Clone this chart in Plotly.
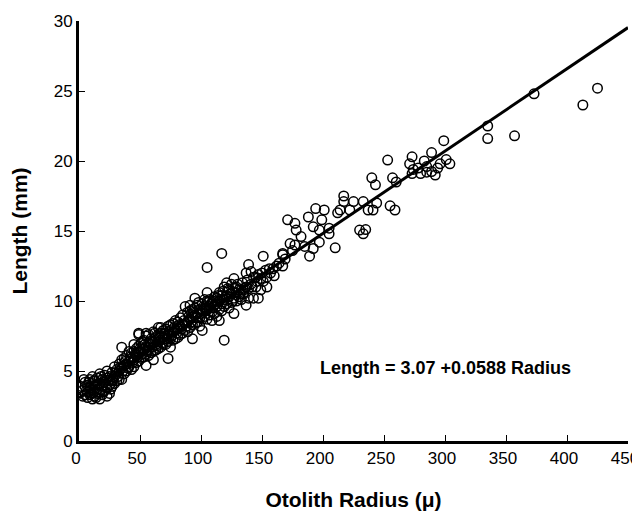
import plotly.graph_objects as go

# Otolith radius (micron) and fish length (mm)
radius = [
    3, 3, 5, 5, 5, 7, 7, 7, 9, 9,
    9, 11, 11, 11, 11, 13, 13, 13, 15, 15,
    15, 17, 17, 17, 17, 19, 19, 19, 21, 21,
    21, 23, 23, 23, 23, 25, 25, 25, 27, 27,
    27, 29, 29, 29, 31, 31, 31, 33, 33, 33,
    35, 35, 35, 35, 37, 37, 37, 39, 39, 39,
    41, 41, 41, 43, 43, 43, 45, 45, 45, 45,
    47, 47, 47, 49, 49, 49, 49, 51, 51, 51,
    53, 53, 53, 55, 55, 55, 55, 57, 57, 57,
    57, 59, 59, 59, 61, 61, 61, 61, 63, 63,
    63, 65, 65, 65, 65, 67, 67, 67, 67, 69,
    69, 69, 71, 71, 71, 73, 73, 73, 73, 75,
    75, 75, 75, 77, 77, 77, 79, 79, 79, 81,
    81, 81, 83, 83, 83, 85, 85, 85, 87, 87,
    87, 89, 89, 89, 91, 91, 91, 91, 93, 93,
    93, 93, 95, 95, 95, 95, 97, 97, 97, 99,
    99, 99, 101, 101, 101, 101, 103, 103, 103, 105,
    105, 105, 105, 105, 107, 107, 107, 109, 109, 109,
    111, 111, 111, 113, 113, 113, 115, 115, 115, 115,
    117, 117, 117, 117, 119, 119, 119, 119, 121, 121,
    121, 123, 123, 123, 125, 125, 125, 127, 127, 127,
    129, 129, 129, 131, 131, 133, 133, 135, 135, 137,
    137, 137, 139, 139, 139, 141, 141, 143, 143, 145,
    145, 147, 147, 149, 149, 151, 151, 154, 154, 156,
    159, 162, 167, 167, 167, 171, 173, 177, 177, 178,
    182, 185, 188, 189, 192, 192, 194, 197, 197, 199,
    201, 205, 205, 210, 212, 214, 217, 217, 222, 225,
    230, 233, 233, 235, 237, 240, 241, 243, 244, 253,
    255, 257, 259, 260, 271, 273, 273, 274, 278, 280,
    283, 285, 285, 289, 289, 292, 294, 296, 299, 301,
    304, 335, 335, 357, 373, 413, 425, 49, 55, 62,
    2, 4, 6, 8, 10, 12, 14, 16, 18, 20,
    22, 24, 26, 28, 30, 32, 34, 36, 38, 40,
    42, 44, 46, 48, 50, 52, 54, 56, 58, 60,
    62, 64, 66, 68, 70, 72, 74, 76, 78, 80,
    82, 84, 86, 88, 90, 92, 94, 96, 98, 100,
    102, 104, 106, 108, 110, 112, 114, 116, 118, 120,
    122, 124, 126, 128, 130, 132, 134, 136, 138, 142,
    146, 150, 153, 157, 160, 164, 169, 175,
]
length = [
    3.2, 3.6, 3.3, 3.9, 4.2, 3.1, 3.5, 4.0, 3.3, 3.8,
    4.4, 3.0, 3.6, 4.1, 4.6, 3.2, 3.9, 4.3, 3.4, 3.7,
    4.5, 3.0, 3.5, 4.1, 4.8, 3.3, 3.9, 4.4, 3.6, 4.2,
    4.7, 3.2, 3.8, 4.5, 5.0, 3.4, 4.0, 4.6, 3.9, 4.3,
    4.9, 4.1, 4.6, 5.3, 4.3, 4.8, 5.1, 4.4, 5.0, 5.5,
    4.4, 5.2, 5.8, 6.7, 4.8, 5.4, 5.9, 5.0, 5.5, 6.1,
    5.3, 5.7, 6.4, 5.1, 5.9, 6.3, 5.3, 5.8, 6.4, 6.9,
    5.6, 6.1, 6.6, 5.7, 6.3, 6.8, 7.6, 5.9, 6.4, 7.0,
    6.0, 6.6, 7.2, 5.4, 6.2, 6.7, 7.5, 6.1, 6.5, 7.0,
    7.6, 6.3, 6.9, 7.3, 5.8, 6.4, 7.1, 7.8, 6.5, 6.9,
    7.4, 6.6, 7.1, 7.6, 8.1, 6.7, 7.2, 7.7, 8.1, 6.9,
    7.4, 7.9, 6.9, 7.5, 8.0, 5.9, 7.1, 7.6, 8.2, 6.7,
    7.3, 7.9, 8.3, 7.2, 7.8, 8.4, 7.3, 7.9, 8.6, 7.4,
    8.0, 8.5, 7.6, 8.2, 8.8, 7.7, 8.3, 9.0, 7.9, 8.4,
    9.6, 7.8, 8.5, 9.2, 8.1, 8.7, 9.3, 9.7, 7.3, 8.3,
    8.9, 9.4, 8.4, 9.0, 9.5, 10.2, 8.5, 9.1, 9.7, 8.2,
    8.8, 9.4, 7.9, 8.7, 9.3, 9.8, 8.9, 9.5, 10.1, 8.7,
    9.4, 10.0, 10.6, 12.4, 9.0, 9.6, 10.1, 8.6, 9.2, 9.9,
    9.1, 9.7, 10.3, 8.9, 9.6, 10.2, 8.6, 9.4, 10.0, 10.6,
    9.3, 9.8, 10.4, 13.4, 7.2, 9.6, 10.1, 11.0, 9.8, 10.4,
    11.3, 9.5, 10.3, 10.8, 9.9, 10.5, 11.2, 9.1, 10.2, 11.6,
    10.0, 10.6, 11.0, 10.3, 10.8, 10.1, 10.8, 10.5, 10.6, 9.7,
    11.0, 12.0, 10.2, 10.9, 12.6, 11.2, 12.1, 10.2, 11.7, 11.0,
    11.7, 10.2, 11.9, 10.8, 11.6, 11.4, 13.2, 11.7, 11.0, 12.3,
    12.3, 12.5, 12.5, 13.4, 13.3, 15.8, 14.1, 14.0, 15.55, 15.07,
    14.6, 13.9, 16.0, 13.2, 15.3, 13.75, 16.6, 14.2, 15.07, 15.8,
    16.5, 15.2, 14.8, 13.8, 16.3, 16.5, 17.5, 17.1, 16.5, 17.1,
    15.07, 17.1, 14.8, 15.1, 16.5, 18.8, 16.5, 18.3, 17.0, 20.07,
    16.8, 18.8, 16.5, 18.5, 19.8, 20.3, 19.1, 19.4, 19.5, 19.1,
    20.0, 19.6, 19.2, 20.6, 19.25, 19.0, 19.5, 19.8, 21.45, 20.1,
    19.8, 22.5, 21.6, 21.8, 24.8, 24.0, 25.2, 7.7, 7.7, 7.7,
    3.9, 4.4, 3.6, 4.2, 3.4, 4.3, 3.1, 4.0, 4.6, 3.5,
    4.0, 4.3, 3.7, 4.4, 4.9, 4.6, 5.3, 5.0, 5.7, 5.2,
    6.0, 5.6, 6.2, 6.0, 6.6, 6.2, 6.9, 6.4, 7.1, 6.7,
    7.3, 6.8, 7.4, 7.0, 7.7, 7.3, 7.8, 7.5, 8.1, 7.7,
    8.3, 8.0, 8.6, 8.2, 8.9, 8.5, 9.2, 8.8, 9.9, 9.1,
    9.6, 9.3, 9.9, 9.5, 10.0, 9.8, 10.4, 10.1, 10.7, 10.3,
    10.9, 10.5, 10.0, 10.9, 11.2, 10.5, 11.3, 10.9, 11.5, 11.0,
    11.4, 12.0, 12.2, 12.0, 11.8, 12.7, 13.0, 13.6,
]

# Regression: Length = 3.07 + 0.0588 Radius
intercept = 3.07
slope = 0.0588
line_x = [0, 450]
line_y = [intercept + slope * v for v in line_x]

x_ticks = [0, 50, 100, 150, 200, 250, 300, 350, 400, 450]
y_ticks = [0, 5, 10, 15, 20, 25, 30]

FONT = "Liberation Sans, Arial, Helvetica, sans-serif"

fig = go.Figure()
fig.add_trace(go.Scatter(
    x=radius, y=length, mode="markers",
    marker=dict(symbol="circle-open", size=9.5, color="black",
                line=dict(width=1.5, color="black")),
    showlegend=False, hoverinfo="skip", cliponaxis=False,
))
fig.add_trace(go.Scatter(
    x=line_x, y=line_y, mode="lines",
    line=dict(color="black", width=3),
    showlegend=False, hoverinfo="skip",
))

fig.add_annotation(
    x=300, y=5.2, xref="x", yref="y",
    text="<b>Length = 3.07 +0.0588 Radius</b>",
    showarrow=False, font=dict(family=FONT, size=18, color="black"),
)

fig.update_layout(
    width=640, height=513,
    margin=dict(l=71, r=20, t=13, b=80),
    paper_bgcolor="white", plot_bgcolor="white",
    font=dict(family=FONT, color="black"),
    xaxis=dict(
        range=[0, 450], tickvals=x_ticks, ticks="inside", ticklen=6,
        tickwidth=1, tickcolor="black", showgrid=False, zeroline=False,
        showline=True, linecolor="black", linewidth=3,
        automargin=False, ticklabeloverflow="allow", ticklabelshift=-3,
        tickfont=dict(family=FONT, size=17, color="black"),
        title=dict(text="<b>Otolith Radius (μ)</b>", standoff=25,
                   font=dict(family=FONT, size=21, color="black")),
    ),
    yaxis=dict(
        range=[0, 30], tickvals=y_ticks, ticks="inside", ticklen=6,
        tickwidth=1, tickcolor="black", showgrid=False, zeroline=False,
        showline=True, linecolor="black", linewidth=3,
        automargin=False, ticklabeloverflow="allow",
        tickfont=dict(family=FONT, size=17, color="black"),
        title=dict(text="<b>Length (mm)</b>", standoff=22,
                   font=dict(family=FONT, size=21, color="black")),
    ),
)

fig.write_html("out.html")
